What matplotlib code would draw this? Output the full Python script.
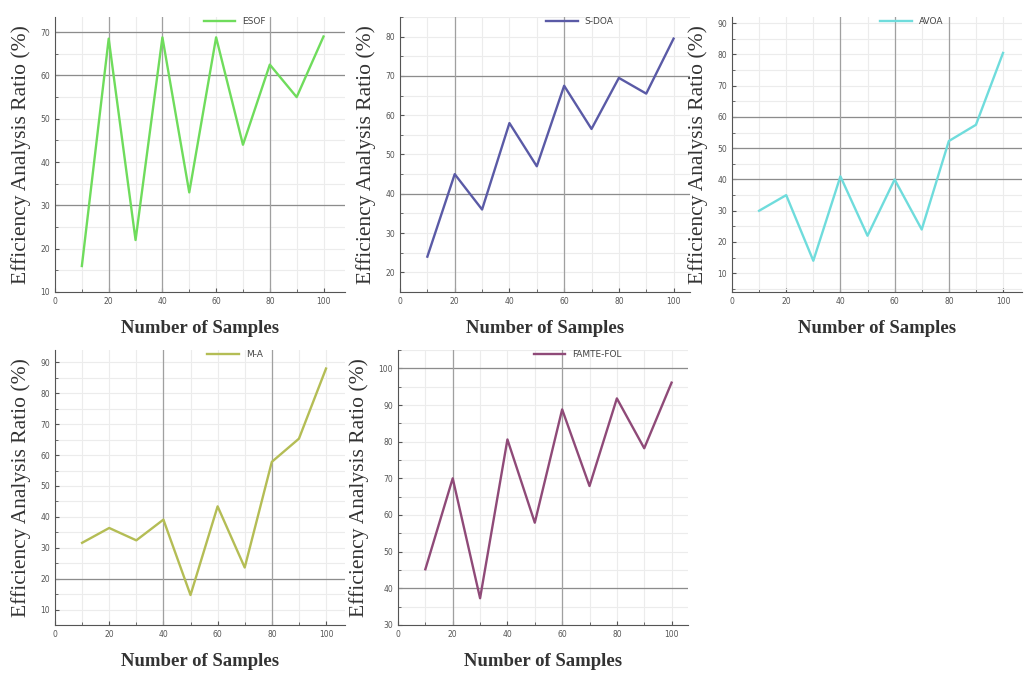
import matplotlib
matplotlib.use("Agg")
import matplotlib.pyplot as plt
from matplotlib.ticker import MultipleLocator

# samples on x
samples = [10, 20, 30, 40, 50, 60, 70, 80, 90, 100]

# efficiency for each method
esof = [16, 68.5, 22, 68.8, 33, 68.8, 44, 62.5, 55, 69]
sdoa = [24, 45, 36, 58, 47, 67.5, 56.5, 69.5, 65.5, 79.5]
avoa = [30, 35, 14, 41, 22, 40, 24, 52.3, 57.5, 80.5]
ma = [31.6, 36.4, 32.4, 39.1, 14.7, 43.4, 23.6, 57.8, 65.3, 88]
famte = [45.2, 70, 37.3, 80.6, 57.9, 88.8, 67.9, 91.8, 78.2, 96.1]

names = ["ESOF", "S-DOA", "AVOA", "M-A", "FAMTE-FOL"]
series = [esof, sdoa, avoa, ma, famte]
colors = ["#6fdc5c", "#5a5aa6", "#6fdcdc", "#b4bd55", "#8f4a78"]

# axes layout in pixels: left, top, right, bottom
boxes = [(55, 17, 345, 292), (400, 17, 690, 292), (732, 17, 1022, 292),
         (55, 350, 345, 625), (398, 350, 688, 625)]
ylims = [(10, 73.5), (15, 85), (4, 92), (5, 94), (30, 105)]
xmax = [108, 106, 107, 107, 106]
# darker grid lines seen in the picture
dark_y = [[30, 60, 70], [40, 70], [40, 50, 60], [20], [40, 100]]
dark_x = [[20, 40, 80], [20, 60], [40, 60, 80], [40, 80], [20, 60]]

W, H = 1027, 682
fig = plt.figure(figsize=(W / 100, H / 100), dpi=100)

for i in range(5):
    l, t, r, b = boxes[i]
    ax = fig.add_axes([l / W, (H - b) / H, (r - l) / W, (b - t) / H])
    ax.set_xlim(0, xmax[i])
    ax.set_ylim(*ylims[i])
    ax.xaxis.set_major_locator(MultipleLocator(20))
    ax.xaxis.set_minor_locator(MultipleLocator(10))
    ax.yaxis.set_major_locator(MultipleLocator(10))
    ax.yaxis.set_minor_locator(MultipleLocator(5))
    ax.grid(True, which="both", color="#ececec", lw=0.8, zorder=0)
    for v in dark_y[i]:
        ax.axhline(v, color="#8c8c8c", lw=0.9, zorder=2)
    for v in dark_x[i]:
        ax.axvline(v, color="#a0a0a0", lw=0.9, zorder=2)
    ax.plot(samples, series[i], color=colors[i], lw=1.7, label=names[i], zorder=3)
    for s in ["top", "right"]:
        ax.spines[s].set_visible(False)
    for s in ["left", "bottom"]:
        ax.spines[s].set_color("#555555")
    ax.tick_params(which="both", labelsize=5.5, colors="#555555", direction="in", length=3)
    ax.tick_params(which="minor", length=2)
    ax.set_xlabel("Number of Samples", family="Liberation Serif", fontsize=13.5,
                  fontweight="bold", color="#333333", labelpad=10)
    ax.set_ylabel("Efficiency Analysis Ratio (%)", family="Liberation Serif",
                  fontsize=15.5, color="#333333", labelpad=7)
    ax.legend(loc="upper center", bbox_to_anchor=(0.62, 1.03), frameon=False,
              fontsize=6.5, handlelength=3.5, labelcolor="#444444")

plt.savefig("out.png", dpi=100)
